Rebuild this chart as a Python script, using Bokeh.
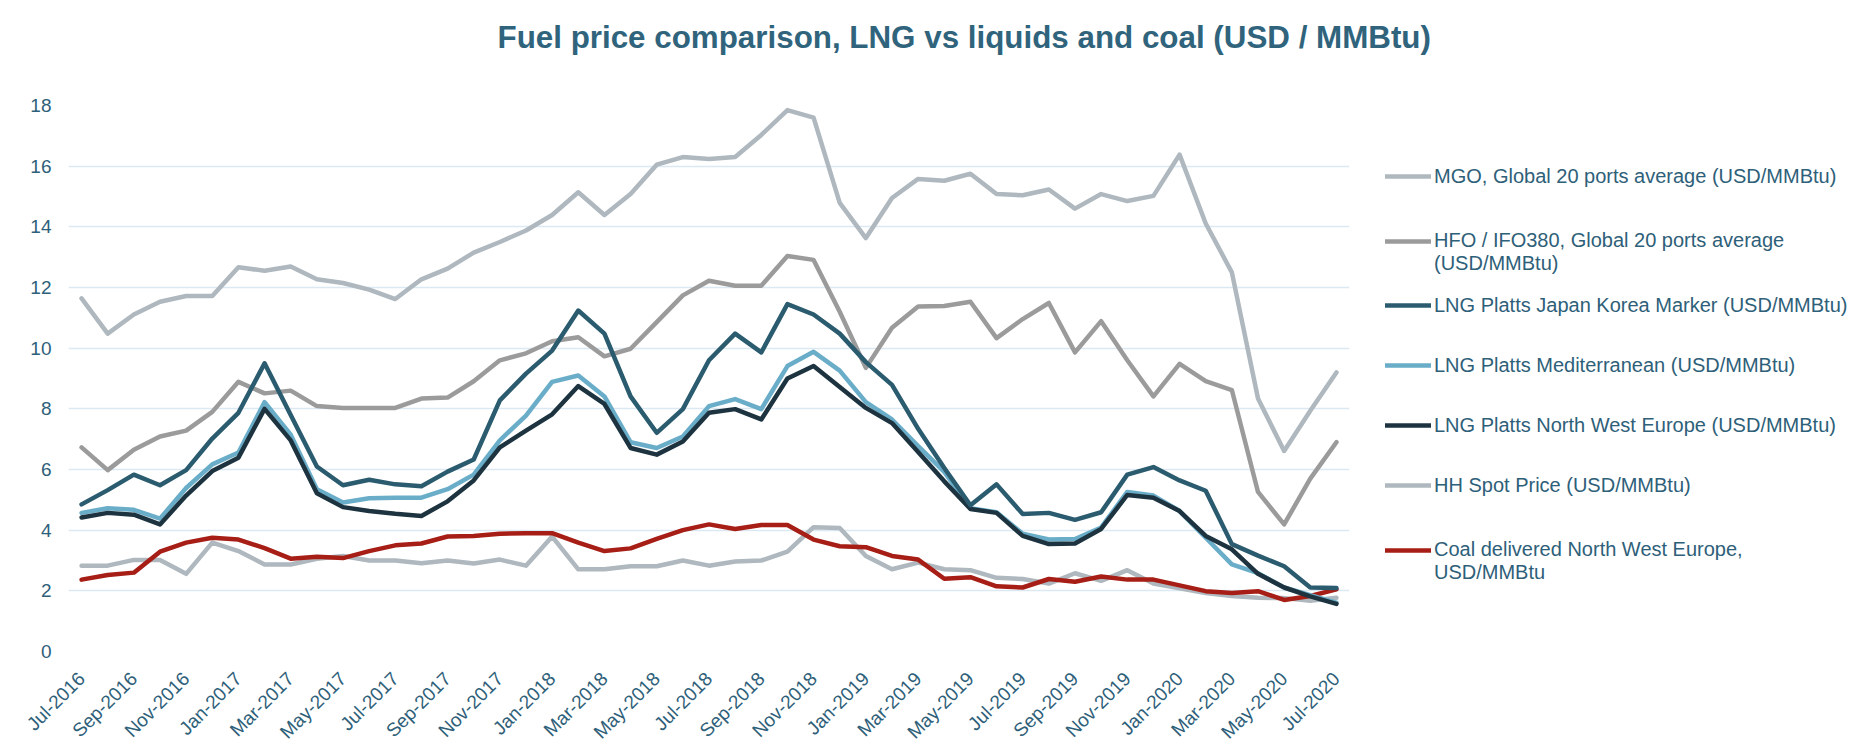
import math
from bokeh.plotting import figure
from bokeh.models import FixedTicker, Legend, LegendItem, Range1d, Title
from bokeh.embed import file_html
from bokeh.resources import INLINE

month_names = ["Jan", "Feb", "Mar", "Apr", "May", "Jun", "Jul", "Aug", "Sep", "Oct", "Nov", "Dec"]
# month labels Jul-2016 .. Jul-2020
month_labels = [month_names[(6 + k) % 12] + "-" + str(2016 + (6 + k) // 12) for k in range(49)]

mgo = [11.64, 10.48, 11.11, 11.53, 11.72, 11.72, 12.67, 12.55, 12.69, 12.27, 12.15, 11.93, 11.62,
       12.27, 12.62, 13.15, 13.50, 13.88, 14.39, 15.14, 14.39, 15.08, 16.05, 16.30, 16.24, 16.30,
       17.03, 17.85, 17.60, 14.79, 13.63, 14.95, 15.58, 15.52, 15.75, 15.08, 15.04, 15.23, 14.60,
       15.08, 14.85, 15.02, 16.38, 14.11, 12.50, 8.34, 6.61, 7.94, 9.20]
hfo = [6.73, 5.98, 6.65, 7.09, 7.28, 7.90, 8.89, 8.51, 8.60, 8.09, 8.03, 8.03, 8.03,
       8.34, 8.37, 8.91, 9.60, 9.83, 10.23, 10.36, 9.73, 9.98, 10.86, 11.74, 12.22, 12.06,
       12.06, 13.04, 12.91, 11.20, 9.35, 10.67, 11.37, 11.39, 11.53, 10.33, 10.96, 11.49, 9.86,
       10.89, 9.60, 8.41, 9.48, 8.91, 8.62, 5.26, 4.19, 5.70, 6.90]
jkm = [4.85, 5.32, 5.83, 5.48, 5.98, 7.02, 7.87, 9.50, 7.80, 6.10, 5.48, 5.66, 5.51,
       5.45, 5.93, 6.33, 8.28, 9.16, 9.92, 11.24, 10.48, 8.41, 7.21, 7.99, 9.60, 10.48,
       9.86, 11.45, 11.11, 10.48, 9.54, 8.79, 7.34, 6.05, 4.82, 5.51, 4.53, 4.57, 4.34,
       4.59, 5.83, 6.08, 5.64, 5.30, 3.54, 3.16, 2.81, 2.11, 2.09]
med = [4.57, 4.72, 4.67, 4.38, 5.39, 6.17, 6.56, 8.22, 7.15, 5.35, 4.91, 5.05, 5.07,
       5.07, 5.35, 5.83, 6.96, 7.78, 8.89, 9.10, 8.41, 6.90, 6.71, 7.09, 8.09, 8.32,
       7.99, 9.41, 9.88, 9.26, 8.22, 7.65, 6.77, 5.92, 4.72, 4.59, 3.88, 3.69, 3.71,
       4.09, 5.26, 5.14, 4.63, 3.75, 2.87, 2.58, 2.11, 1.86, 1.61]
nwe = [4.42, 4.57, 4.51, 4.19, 5.14, 5.95, 6.39, 8.00, 6.96, 5.22, 4.76, 4.63, 4.54,
       4.47, 4.95, 5.64, 6.73, 7.28, 7.82, 8.75, 8.16, 6.71, 6.49, 6.92, 7.87, 7.99,
       7.65, 9.00, 9.41, 8.72, 8.03, 7.53, 6.58, 5.61, 4.70, 4.57, 3.81, 3.54, 3.56,
       4.04, 5.16, 5.07, 4.63, 3.81, 3.37, 2.56, 2.11, 1.82, 1.57]
hh = [2.83, 2.83, 3.02, 3.02, 2.56, 3.59, 3.31, 2.87, 2.87, 3.06, 3.15, 3.00, 3.00,
      2.91, 3.00, 2.90, 3.03, 2.83, 3.79, 2.71, 2.71, 2.81, 2.81, 3.00, 2.83, 2.97,
      3.00, 3.29, 4.10, 4.07, 3.15, 2.71, 2.93, 2.71, 2.68, 2.43, 2.39, 2.24, 2.58,
      2.33, 2.68, 2.24, 2.08, 1.93, 1.83, 1.77, 1.76, 1.67, 1.77]
coal = [2.37, 2.52, 2.60, 3.29, 3.59, 3.75, 3.69, 3.41, 3.06, 3.12, 3.08, 3.31, 3.50,
        3.56, 3.79, 3.81, 3.88, 3.90, 3.90, 3.59, 3.31, 3.40, 3.71, 4.00, 4.19, 4.04,
        4.17, 4.17, 3.69, 3.47, 3.44, 3.15, 3.03, 2.40, 2.45, 2.15, 2.11, 2.39, 2.30,
        2.47, 2.37, 2.37, 2.18, 1.99, 1.93, 1.99, 1.70, 1.83, 2.05]

series_names = [
    "MGO, Global 20 ports average (USD/MMBtu)",
    "HFO / IFO380, Global 20 ports average\n(USD/MMBtu)",
    "LNG Platts Japan Korea Marker (USD/MMBtu)",
    "LNG Platts Mediterranean (USD/MMBtu)",
    "LNG Platts North West Europe (USD/MMBtu)",
    "HH Spot Price (USD/MMBtu)",
    "Coal delivered North West Europe,\nUSD/MMBtu",
]
series_values = [mgo, hfo, jkm, med, nwe, hh, coal]
series_colors = ["#aeb8be", "#9b9b9c", "#2a5b6e", "#6aadc9", "#1d3440", "#aeb8be", "#a61e15"]
draw_order = [0, 5, 1, 6, 3, 4, 2]

TXT = "#2e6079"
FONT = "Liberation Sans"
x = list(range(len(month_labels)))

FL, FT, FW, FH = 68, 105, 1281, 546
W, H = 1856, 744

p = figure(
    frame_width=FW, frame_height=FH,
    min_border_left=FL, min_border_right=W - FL - FW, min_border_top=FT, min_border_bottom=H - FT - FH,
    x_range=Range1d(-0.5, len(month_labels) - 0.5), y_range=Range1d(0, 18),
    output_backend="svg", toolbar_location=None, title=None,
)
# spacer between frame and title (added first => closest to the frame)
p.add_layout(Title(text=" ", text_font_size="2px", standoff=47), "above")
p.add_layout(Title(text="Fuel price comparison, LNG vs liquids and coal (USD / MMBtu)",
                   text_font=FONT, text_font_size="31.35px", text_font_style="bold",
                   text_color="#30647d", align="left", offset=429, standoff=0), "above")

p.outline_line_color = None
p.background_fill_color = "white"
p.border_fill_color = "white"
p.xgrid.grid_line_color = None
p.ygrid.grid_line_color = "#dce9f2"
p.ygrid.grid_line_width = 1.5

p.yaxis.ticker = FixedTicker(ticks=list(range(0, 19, 2)))
p.xaxis.ticker = FixedTicker(ticks=list(range(0, len(month_labels), 2)))
p.xaxis.major_label_overrides = {i: month_labels[i] for i in range(0, len(month_labels), 2)}
p.xaxis.major_label_orientation = math.pi / 4
for ax in (p.xaxis[0], p.yaxis[0]):
    ax.axis_line_color = None
    ax.major_tick_line_color = None
    ax.minor_tick_line_color = None
    ax.major_label_text_font = FONT
    ax.major_label_text_font_size = "19px"
    ax.major_label_text_color = TXT
p.yaxis.major_label_standoff = 11
p.xaxis.major_label_standoff = 18

renderers = {}
for i in draw_order:
    renderers[i] = p.line(x, series_values[i], line_color=series_colors[i], line_width=4.5,
                          line_join="round", line_cap="round")

# Two-line labels get a leading empty line so that the glyph sits on the first text line.
labels = [("\n" + s) if "\n" in s else s for s in series_names]
ITEM_H = 60          # height of single-line entries
ITEM_H3 = 70         # measured height of the three-line entries
n_multi = sum(1 for s in series_names if "\n" in s)
leg_h = (7 - n_multi) * ITEM_H + n_multi * ITEM_H3
leg_top = 144
items = [LegendItem(label=labels[i], renderers=[renderers[i]]) for i in range(7)]
legend = Legend(items=items, location=(36, (FT + FH) - (leg_top + leg_h)))
legend.border_line_color = None
legend.background_fill_color = None
legend.label_text_font = FONT
legend.label_text_font_size = "20px"
legend.label_text_color = TXT
legend.glyph_width = 46
legend.glyph_height = ITEM_H
legend.label_height = ITEM_H
legend.label_standoff = 3
legend.spacing = 0
legend.padding = 0
legend.margin = 0
p.add_layout(legend, "right")

open("out.html", "w").write(file_html(p, INLINE))
